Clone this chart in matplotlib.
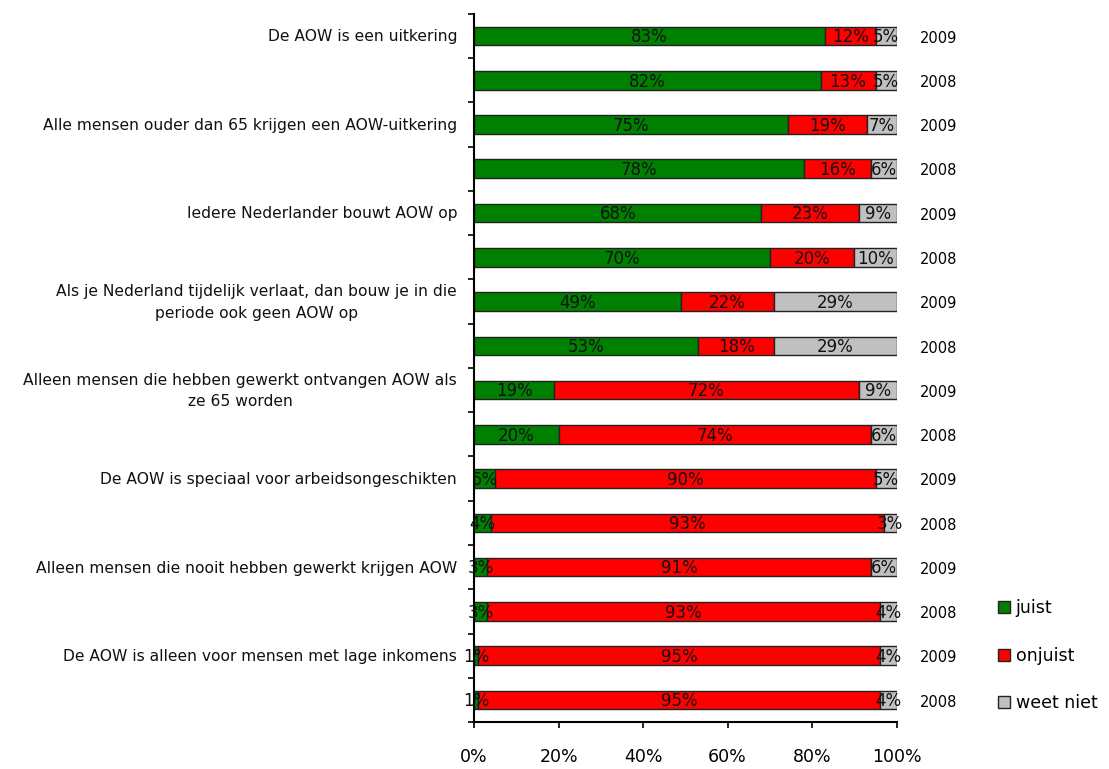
import numpy as np
import matplotlib.pyplot as plt
from matplotlib.patches import Patch

# rows from top to bottom, each statement has a 2009 and a 2008 row
statements = [
    "De AOW is een uitkering",
    "Alle mensen ouder dan 65 krijgen een AOW-uitkering",
    "Iedere Nederlander bouwt AOW op",
    "Als je Nederland tijdelijk verlaat, dan bouw je in die\nperiode ook geen AOW op",
    "Alleen mensen die hebben gewerkt ontvangen AOW als\nze 65 worden",
    "De AOW is speciaal voor arbeidsongeschikten",
    "Alleen mensen die nooit hebben gewerkt krijgen AOW",
    "De AOW is alleen voor mensen met lage inkomens",
]
years = ["2009", "2008"] * 8

juist = [83, 82, 75, 78, 68, 70, 49, 53, 19, 20, 5, 4, 3, 3, 1, 1]
onjuist = [12, 13, 19, 16, 23, 20, 22, 18, 72, 74, 90, 93, 91, 93, 95, 95]
weet_niet = [5, 5, 7, 6, 9, 10, 29, 29, 9, 6, 5, 3, 6, 4, 4, 4]

series = [juist, onjuist, weet_niet]
names = ["juist", "onjuist", "weet niet"]
colors = ["#008000", "#FF0000", "#C0C0C0"]

data = np.array(series, dtype=float)
shares = data / data.sum(axis=0) * 100

fig = plt.figure(figsize=(11.09, 7.69), dpi=100)
ax = fig.add_axes([0.4275, 0.061, 0.381, 0.921])

y = np.arange(len(years))
left = np.zeros(len(years))
for k in range(3):
    ax.barh(y, shares[k], left=left, height=0.42, color=colors[k],
            edgecolor="#222222", linewidth=1.0)
    for i in range(len(years)):
        ax.text(left[i] + shares[k][i] / 2, y[i] + 0.03, "%d%%" % series[k][i],
                ha="center", va="center", fontsize=12, color="#111111")
    left += shares[k]

for i in range(len(years)):
    ax.text(110, y[i] + 0.05, years[i], ha="center", va="center", fontsize=10.5)

for j, s in enumerate(statements):
    ax.text(-4, 2 * j + 0.02, s, ha="right", va="center", fontsize=11.2,
            multialignment="center", linespacing=1.55, color="#111111")

ax.set_xlim(0, 100)
ax.set_ylim(15.5, -0.5)
ax.set_xticks([0, 20, 40, 60, 80, 100])
ax.set_xticklabels(["0%", "20%", "40%", "60%", "80%", "100%"], fontsize=12.5)
ax.set_yticks(np.arange(-0.5, 16, 1))
ax.set_yticklabels([])
ax.tick_params(axis="x", direction="out", length=4, width=1.2, pad=15)
ax.tick_params(axis="y", direction="out", length=4, width=1.2)
for side in ["top", "right"]:
    ax.spines[side].set_visible(False)
ax.spines["left"].set_linewidth(1.5)
ax.spines["bottom"].set_linewidth(1.5)

handles = [Patch(facecolor=c, edgecolor="#222222", label=n) for c, n in zip(colors, names)]
fig.legend(handles=handles, loc="center left", bbox_to_anchor=(0.886, 0.147),
           frameon=False, fontsize=12.5, handlelength=0.7, handleheight=0.7,
           handletextpad=0.3, labelspacing=1.7)

plt.savefig("out.png")
